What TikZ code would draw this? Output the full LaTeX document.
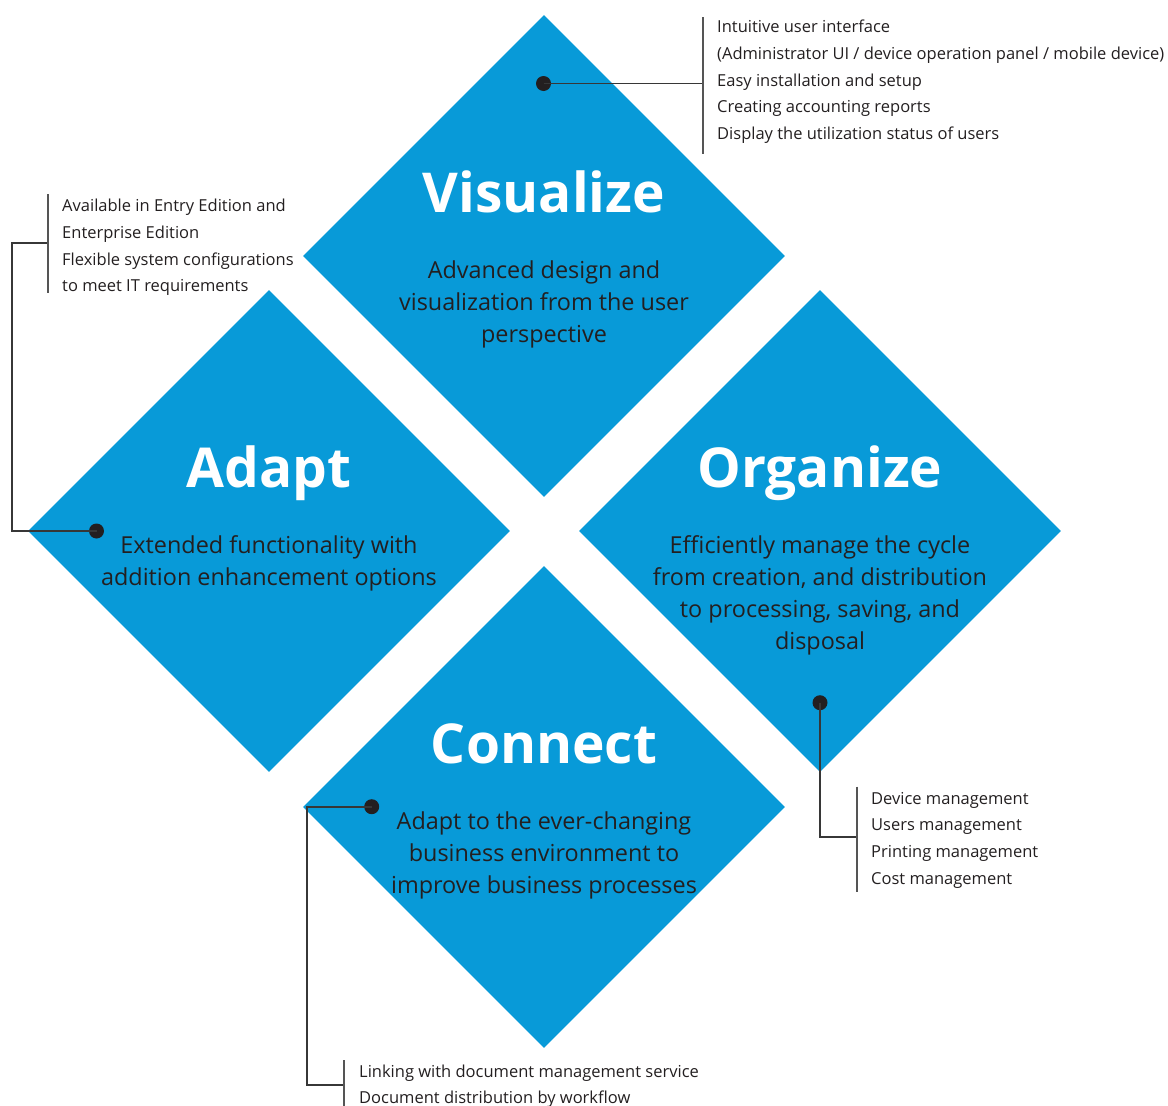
\documentclass[tikz,border=0pt]{standalone}
\usepackage{fontspec}
\setmainfont{Open Sans}
\usepackage{xcolor}
\usetikzlibrary{calc,positioning,shapes.geometric}
\definecolor{tileblue}{RGB}{8,154,216}
\definecolor{inkdark}{RGB}{35,31,32}
\definecolor{leadgray}{RGB}{55,55,55}
\definecolor{bargray}{RGB}{85,85,85}
\tikzset{
  tile/.style={diamond,aspect=1,fill=tileblue,minimum width=482pt,minimum height=482pt,inner sep=0pt},
  tiletitle/.style={text=white,font=\fontsize{55}{60}\selectfont\bfseries,anchor=base,inner sep=0pt},
  tiledesc/.style={text=inkdark,font=\fontsize{23.4}{32}\selectfont,align=center,anchor=base,inner sep=0pt},
  pindot/.style={circle,fill=inkdark,minimum size=15pt,inner sep=0pt},
  leadline/.style={leadgray,line width=1.9pt},
  barline/.style={bargray,line width=1.7pt},
  notes/.style={text=inkdark,font=\fontsize{16.5}{26.75}\selectfont,align=left,anchor=base west,inner sep=0pt}
}
\begin{document}
\begin{tikzpicture}[x=1pt,y=-1pt]
  \useasboundingbox (0,0) rectangle (1168,1106);
  \foreach \nm/\x/\y/\ttl in {vis/544/256/Visualize,ada/269/531/Adapt,org/820/531/Organize,con/544/807/Connect} {
    \node[tile] (\nm) at (\x,\y) {};
    \node[tiletitle] (\nm t) at ([yshift=44pt]\nm.center) {\ttl};
  }
  % base anchor sits on the last line
  \node[tiledesc] (visd) at ([yshift=-86pt]vis.center) {Advanced design and\\visualization from the user\\perspective};
  \node[tiledesc] (adad) at ([yshift=-54pt]ada.center) {Extended functionality with\\addition enhancement options};
  \node[tiledesc] (orgd) at ([yshift=-118pt]org.center) {Efficiently manage the cycle\\from creation, and distribution\\to processing, saving, and\\disposal};
  \node[tiledesc] (cond) at ([yshift=-86pt]con.center) {Adapt to the ever-changing\\business environment to\\improve business processes};

  % Visualize callout
  \node[pindot] (visdot) at (543.5,83.5) {};
  \coordinate (visbar) at (703.3,83.5);
  \draw[leadline] (visdot.center) -- (visbar);
  \draw[barline] (703.3,17) -- (703.3,153.5);
  \node[notes] (visn) at (717,139.5) {Intuitive user interface\\(Administrator UI / device operation panel / mobile device)\\Easy installation and setup\\Creating accounting reports\\Display the utilization status of users};

  % Adapt callout
  \node[pindot] (adadot) at (96.5,531) {};
  \coordinate (adabar) at (47.7,243);
  \draw[leadline] (adadot.center) -- (11.7,531) |- (adabar);
  \draw[barline] (47.7,194) -- (47.7,292.5);
  \node[notes] (adan) at (62,291.8) {Available in Entry Edition and\\Enterprise Edition\\Flexible system configurations\\to meet IT requirements};

  % Organize callout
  \node[pindot] (orgdot) at (820,702.7) {};
  \coordinate (orgbar) at (856.7,837.3);
  \draw[leadline] (orgdot.center) |- (orgbar);
  \draw[barline] (856.7,786.7) -- (856.7,891.5);
  \node[notes] (orgn) at (871,884.3) {Device management\\Users management\\Printing management\\Cost management};

  % Connect callout
  \node[pindot] (condot) at (371.7,806.7) {};
  \coordinate (conbar) at (344.3,1085);
  \draw[leadline] (condot.center) -- (306.7,806.7) |- (conbar);
  \draw[barline] (344.3,1060) -- (344.3,1110);
  \node[notes] (conn) at (359,1103.8) {Linking with document management service\\Document distribution by workflow};
\end{tikzpicture}
\end{document}
